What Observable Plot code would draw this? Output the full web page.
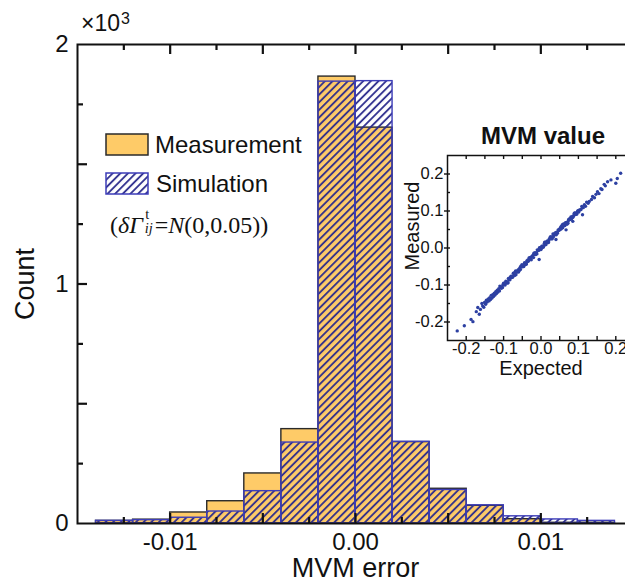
<!DOCTYPE html>
<html>
<head>
<meta charset="utf-8">
<script src="https://cdn.jsdelivr.net/npm/d3@7"></script>
<script src="https://cdn.jsdelivr.net/npm/@observablehq/plot@0.6"></script>
<style>
  html, body { margin: 0; padding: 0; overflow: hidden; background: #fff; }
  #wrap { position: relative; width: 625px; height: 583px; overflow: hidden;
          font-family: "Liberation Sans", Arial, sans-serif; color: #111; }
  #main { position: absolute; left: 0; top: 0; width: 640px; }
  #inset { position: absolute; left: 400px; top: 110px; width: 240px; }
  .lg { position: absolute; font-size: 24px; line-height: 24px; white-space: nowrap; }
  .key { position: absolute; }
  #scale { position: absolute; left: 81px; top: 12px; font-size: 23px; line-height: 23px; }
  #scale sup { font-size: 16px; position: relative; top: -5px; vertical-align: top; margin-left: 1px; }
  #formula { position: absolute; left: 110px; top: 209px; font-family: "Liberation Serif", "Times New Roman", serif;
             font-size: 24px; line-height: 24px; white-space: nowrap; }
  #formula .ss { display: inline-block; position: relative; width: 0.42em; height: 1em; margin-left: 0.08em; vertical-align: baseline; }
  #formula .ss .t { position: absolute; left: 0.04em; top: -0.14em; font-size: 0.6em; line-height: 1; }
  #formula .ss .ij { position: absolute; left: 0; top: 0.84em; font-size: 0.6em; line-height: 1; font-style: italic; }
</style>
</head>
<body>
<div id="wrap">
  <div id="main"></div>
  <div id="inset"></div>
  <div id="scale">×10<sup>3</sup></div>

  <svg class="key" style="left:105px;top:133px" width="44" height="23">
    <rect x="1" y="1" width="42" height="21" fill="#FECB68" stroke="#2a2a2a" stroke-width="1.5"></rect>
  </svg>
  <div class="lg" style="left:155px;top:133px">Measurement</div>

  <svg class="key" style="left:105px;top:172px" width="44" height="23">
    <defs>
      <pattern id="hatch-key" width="5.4" height="12" patternUnits="userSpaceOnUse" patternTransform="rotate(45)">
        <line x1="1" y1="0" x2="1" y2="12" stroke="#2b2b8c" stroke-width="1.8"></line>
      </pattern>
    </defs>
    <rect x="1" y="1" width="42" height="21" fill="url(#hatch-key)" stroke="#3d3db8" stroke-width="1.5"></rect>
  </svg>
  <div class="lg" style="left:156px;top:172px">Simulation</div>

  <div id="formula">(<i>δΓ</i><span class="ss"><span class="t">t</span><span class="ij">ij</span></span>=<i>N</i>(0,0.05))</div>
</div>

<script>
// Histogram of MVM error: bin edges and counts per bin
const binEdges = [-0.014, -0.012, -0.010, -0.008, -0.006, -0.004, -0.002, 0,
                  0.002, 0.004, 0.006, 0.008, 0.010, 0.012, 0.014];
const measurementCounts = [11, 16, 46, 93, 209, 394, 1866, 1653, 340, 145, 74, 18, 3, 3];
const simulationCounts  = [11, 14, 24, 50, 135, 338, 1845, 1847, 341, 140, 76, 30, 17, 11];

// Axis ticks of the histogram
const xLabelTicks = [-0.01, 0, 0.01];
const xMajorTicks = [-0.01, -0.005, 0, 0.005, 0.01];
const xMinorTicks = [-0.0125, -0.0075, -0.0025, 0.0025, 0.0075, 0.0125];
const yLabelTicks = [0, 1000, 2000];
const yMajorTicks = [500, 1000, 1500];
const yMinorTicks = [250, 750, 1250, 1750];

// Inset: expected vs measured MVM values
const expected = [
  -0.224,-0.205,-0.187,-0.182,-0.173,-0.169,-0.165,-0.162,-0.158,-0.156,-0.153,-0.151,-0.148,-0.146,-0.144,-0.141,
  -0.139,-0.137,-0.135,-0.133,-0.131,-0.129,-0.127,-0.125,-0.123,-0.121,-0.119,-0.117,-0.115,-0.113,-0.111,-0.110,
  -0.108,-0.104,-0.100,-0.096,-0.092,-0.088,-0.084,-0.080,-0.076,-0.072,-0.068,-0.064,-0.060,-0.056,-0.052,-0.048,
  -0.044,-0.040,-0.036,-0.032,-0.028,-0.024,-0.020,-0.016,-0.012,-0.008,-0.004,0.000,0.004,0.008,0.012,0.016,
  0.020,0.024,0.028,0.032,0.036,0.040,0.044,0.048,0.052,0.056,0.060,0.064,0.068,0.072,0.076,0.080,
  0.084,0.088,0.092,0.096,0.100,0.104,
  -0.106,-0.102,-0.098,-0.094,-0.090,-0.086,-0.082,-0.078,-0.074,-0.070,-0.066,-0.062,-0.058,-0.054,-0.050,-0.046,
  -0.042,-0.038,-0.034,-0.030,-0.026,-0.022,-0.018,-0.014,-0.010,-0.006,-0.002,0.002,0.006,0.010,0.014,0.018,
  0.022,0.026,0.030,0.034,0.038,0.042,0.046,0.050,0.054,0.058,0.062,0.066,0.070,0.074,0.078,0.082,
  0.086,0.090,0.094,0.098,0.102,
  -0.107,-0.103,-0.099,-0.095,-0.091,-0.087,-0.083,-0.079,-0.075,-0.071,-0.067,-0.063,-0.059,-0.055,-0.051,-0.047,
  -0.043,-0.039,-0.035,-0.031,-0.027,-0.023,-0.019,-0.015,-0.011,-0.007,-0.003,0.001,0.005,0.009,0.013,0.017,
  0.021,0.025,0.029,0.033,0.037,0.041,0.045,0.049,0.053,0.057,0.061,0.065,0.069,0.073,0.077,0.081,
  0.085,0.089,0.093,0.097,0.101,
  0.213,0.204,0.200,0.187,0.178,0.172,0.169,0.163,0.160,0.155,0.151,0.147,0.143,0.138,0.135,0.129,
  0.126,0.122,0.119,0.116,0.113,0.111,0.109,0.107,
  0.067,0.040,-0.005,0.085
];
const measured = [
  -0.224,-0.210,-0.193,-0.199,-0.172,-0.161,-0.179,-0.166,-0.150,-0.157,-0.160,-0.147,-0.152,-0.141,-0.146,-0.138,
  -0.143,-0.134,-0.139,-0.128,-0.135,-0.126,-0.131,-0.122,-0.127,-0.118,-0.123,-0.114,-0.119,-0.110,-0.116,-0.103,
  -0.105,-0.106,-0.095,-0.100,-0.091,-0.094,-0.082,-0.076,-0.079,-0.072,-0.062,-0.065,-0.065,-0.053,-0.050,-0.050,
  -0.040,-0.044,-0.036,-0.027,-0.031,-0.023,-0.026,-0.013,-0.013,-0.006,0.001,-0.004,0.004,0.006,0.016,0.017,
  0.015,0.027,0.025,0.038,0.035,0.042,0.040,0.048,0.055,0.054,0.065,0.061,0.069,0.067,0.078,0.084,
  0.082,0.088,0.095,0.092,0.101,0.103,
  -0.109,-0.100,-0.099,-0.090,-0.095,-0.086,-0.079,-0.080,-0.068,-0.074,-0.065,-0.060,-0.061,-0.049,-0.051,-0.050,
  -0.042,-0.035,-0.036,-0.026,-0.032,-0.020,-0.017,-0.017,-0.005,-0.006,-0.004,0.005,0.002,0.016,0.013,0.015,
  0.024,0.030,0.025,0.035,0.038,0.040,0.049,0.049,0.058,0.055,0.062,0.068,0.065,0.077,0.077,0.083,
  0.084,0.094,0.091,0.100,0.102,
  -0.106,-0.107,-0.096,-0.095,-0.093,-0.082,-0.086,-0.077,-0.076,-0.067,-0.072,-0.063,-0.057,-0.058,-0.045,-0.046,
  -0.045,-0.043,-0.032,-0.031,-0.025,-0.024,-0.014,-0.018,-0.016,-0.006,0.000,-0.001,0.005,0.013,0.009,0.019,
  0.020,0.030,0.030,0.030,0.040,0.036,0.045,0.051,0.051,0.063,0.060,0.068,0.065,0.073,0.079,0.078,
  0.086,0.094,0.091,0.097,0.097,
  0.202,0.188,0.175,0.184,0.179,0.168,0.172,0.158,0.160,0.147,0.152,0.145,0.136,0.139,0.131,0.126,
  0.121,0.124,0.113,0.117,0.109,0.090,0.112,0.104,
  0.049,0.023,-0.031,0.072
];
const insetLabelTicks = [-0.2, -0.1, 0, 0.1, 0.2];
const insetMinorTicks = [-0.2, -0.15, -0.1, -0.05, 0, 0.05, 0.1, 0.15, 0.2];

const bins = binEdges.slice(0, -1).map((x1, i) => ({
  x1, x2: binEdges[i + 1],
  measurement: measurementCounts[i],
  simulation: simulationCounts[i]
}));
const points = expected.map((e, i) => ({expected: e, measured: measured[i]}));

const font = "Liberation Sans, Arial, sans-serif";
const ink = "#111";

// main frame geometry (pixels) and domains
const W = 640, H = 583, mL = 77, mR = 7, mT = 44, mB = 60;
const fw = W - mL - mR, fh = H - mT - mB;
const xDom = [-0.015, 0.015], yDom = [0, 2000];
// tick lengths converted from pixels to data units
const xPer = (xDom[1] - xDom[0]) / fw, yPer = (yDom[1] - yDom[0]) / fh;
const tickRules = (xs, ys, len) => [
  Plot.ruleX(xs, {x: d => d, y1: yDom[0], y2: yDom[0] + len * yPer, stroke: ink, strokeWidth: 2.2}),
  Plot.ruleX(xs, {x: d => d, y1: yDom[1] - len * yPer, y2: yDom[1], stroke: ink, strokeWidth: 2.2}),
  Plot.ruleY(ys, {y: d => d, x1: xDom[0], x2: xDom[0] + len * xPer, stroke: ink, strokeWidth: 2.2})
];

const main = Plot.plot({
  width: W, height: H,
  marginLeft: mL, marginRight: mR, marginTop: mT, marginBottom: mB,
  style: {fontFamily: font, color: ink, maxWidth: "none", overflow: "visible"},
  x: {domain: xDom},
  y: {domain: yDom},
  marks: [
    Plot.rectY(bins, {x1: "x1", x2: "x2", y: "measurement", fill: "#FECB68", stroke: "#2a2a2a", strokeWidth: 1.4}),
    Plot.rectY(bins, {x1: "x1", x2: "x2", y: "simulation", fill: "url(#hatch-sim)", stroke: "#3d3db8", strokeWidth: 1.4}),
    // inward ticks on bottom, top and left
    ...tickRules(xMajorTicks, yMajorTicks, 10),
    ...tickRules(xMinorTicks, yMinorTicks, 6),
    Plot.axisX(xLabelTicks, {anchor: "bottom", tickSize: 0, tickPadding: 9, tickFormat: d => d.toFixed(2), fontSize: 24, label: null}),
    Plot.axisY(yLabelTicks, {anchor: "left", tickSize: 0, tickPadding: 9, tickFormat: d => String(d / 1000), fontSize: 24, label: null}),
    Plot.text(["Count"], {text: d => d, frameAnchor: "left", textAnchor: "middle", lineAnchor: "middle", rotate: -90, dx: -52, fontSize: 27}),
    Plot.text(["MVM error"], {text: d => d, frameAnchor: "bottom", textAnchor: "middle", lineAnchor: "middle", dy: 45, fontSize: 27}),
    Plot.frame({stroke: ink, strokeWidth: 2})
  ]
});

// diagonal hatching used by the simulation bars
const ns = "http://www.w3.org/2000/svg";
const defs = document.createElementNS(ns, "defs");
const pat = document.createElementNS(ns, "pattern");
pat.setAttribute("id", "hatch-sim");
pat.setAttribute("width", "5.4");
pat.setAttribute("height", "12");
pat.setAttribute("patternUnits", "userSpaceOnUse");
pat.setAttribute("patternTransform", "rotate(45)");
const hl = document.createElementNS(ns, "line");
hl.setAttribute("x1", "1"); hl.setAttribute("y1", "0");
hl.setAttribute("x2", "1"); hl.setAttribute("y2", "12");
hl.setAttribute("stroke", "#2b2b8c");
hl.setAttribute("stroke-width", "1.8");
pat.appendChild(hl);
defs.appendChild(pat);
main.insertBefore(defs, main.firstChild);
document.getElementById("main").appendChild(main);

// inset geometry (pixels) and domains
const iW = 240, iH = 280, iL = 47, iR = 6, iT = 45, iB = 50;
const ifw = iW - iL - iR, ifh = iH - iT - iB;
const iDom = [-0.25, 0.25];
const ixPer = (iDom[1] - iDom[0]) / ifw, iyPer = (iDom[1] - iDom[0]) / ifh;

const inset = Plot.plot({
  width: iW, height: iH,
  marginLeft: iL, marginRight: iR, marginTop: iT, marginBottom: iB,
  style: {fontFamily: font, color: ink, maxWidth: "none", overflow: "visible"},
  x: {domain: iDom},
  y: {domain: iDom},
  marks: [
    Plot.dot(points, {x: "expected", y: "measured", r: 1.7, fill: "#2d40a2", stroke: null}),
    Plot.ruleX(insetMinorTicks, {x: d => d, y1: iDom[0], y2: iDom[0] + 4 * iyPer, stroke: ink, strokeWidth: 1.4}),
    Plot.ruleX(insetMinorTicks, {x: d => d, y1: iDom[1] - 4 * iyPer, y2: iDom[1], stroke: ink, strokeWidth: 1.4}),
    Plot.ruleY(insetMinorTicks, {y: d => d, x1: iDom[0], x2: iDom[0] + 3 * ixPer, stroke: ink, strokeWidth: 1.4}),
    Plot.axisX(insetLabelTicks, {anchor: "bottom", tickSize: 0, tickPadding: 2, tickFormat: d => d.toFixed(1), fontSize: 16.5, label: null}),
    Plot.axisY(insetLabelTicks, {anchor: "left", tickSize: 3, tickPadding: 1, tickFormat: d => d.toFixed(1), fontSize: 16.5, label: null, strokeWidth: 1.4}),
    Plot.text(["MVM value"], {text: d => d, frameAnchor: "top", textAnchor: "middle", lineAnchor: "middle", dx: 2, dy: -19, fontSize: 24, fontWeight: "bold"}),
    Plot.text(["Measured"], {text: d => d, frameAnchor: "left", textAnchor: "middle", lineAnchor: "middle", rotate: -90, dx: -35, dy: -22, fontSize: 20}),
    Plot.text(["Expected"], {text: d => d, frameAnchor: "bottom", textAnchor: "middle", lineAnchor: "middle", dy: 28, fontSize: 20}),
    Plot.frame({stroke: ink, strokeWidth: 1.5})
  ]
});
document.getElementById("inset").appendChild(inset);
</script>
</body>
</html>
